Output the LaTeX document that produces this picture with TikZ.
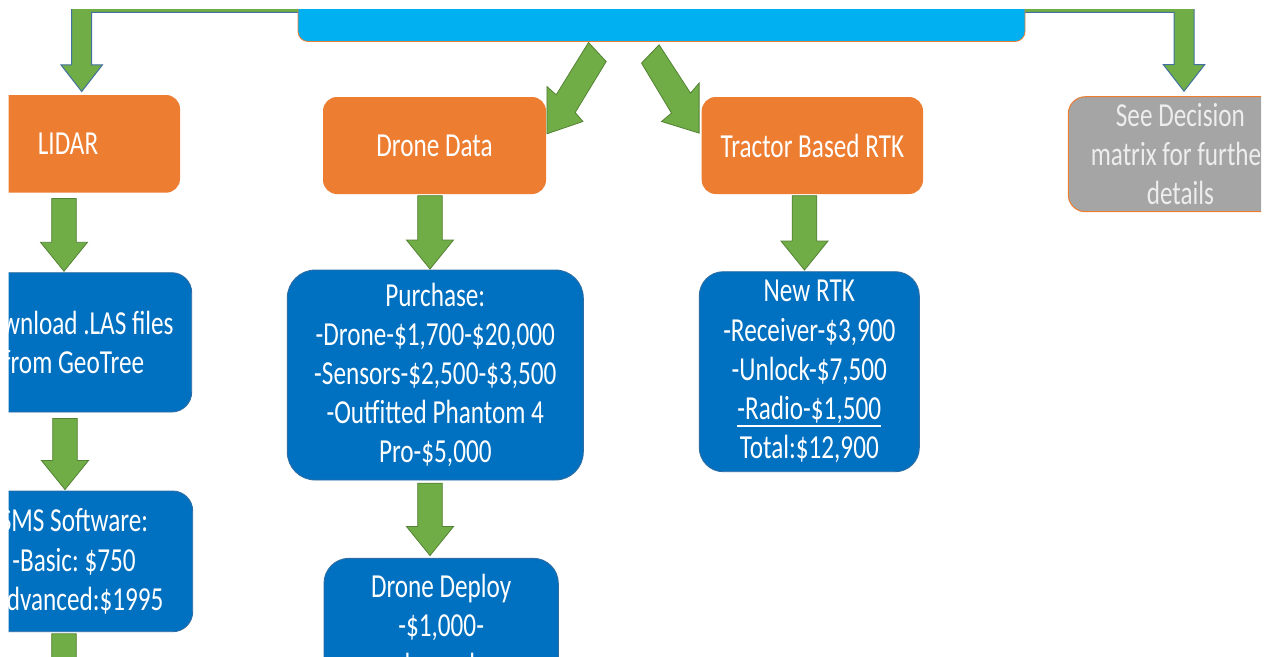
\documentclass[tikz,border=0pt]{standalone}
\usepackage{fontspec}
\setmainfont{Carlito}[FakeStretch=0.75]
\usetikzlibrary{calc}
\definecolor{gfill}{HTML}{70AD47}
\definecolor{gline}{HTML}{548235}
\definecolor{eline}{HTML}{41719C}
\definecolor{bfill}{HTML}{0070C0}
\definecolor{bline}{HTML}{2E6DA4}
\definecolor{ofill}{HTML}{ED7D31}
\definecolor{grfill}{HTML}{A5A5A5}
\definecolor{tfill}{HTML}{00B0F0}
\newcommand\myul[1]{\vtop{\hbox{#1}\kern1.2pt\hrule height 1.6pt}}
\newcommand\blockdown[2]{\draw[garrow] let \p1=#1, \p2=#2 in
  (\x2-12.3,\y1) -- (\x2+12.3,\y1) -- (\x2+12.3,\y2+29) -- (\x2+23.5,\y2+29)
  -- (\x2,\y2) -- (\x2-23.5,\y2+29) -- (\x2-12.3,\y2+29) -- cycle;}
\begin{document}
\frenchspacing
\begin{tikzpicture}[x=1pt,y=-1pt,
  box/.style={rounded corners=#1pt, text=white, align=center, inner sep=0pt,
    font=\fontsize{33.6}{39.2}\selectfont\frenchspacing},
  orangebox/.style={box=14, fill=ofill},
  bluebox/.style={box=#1, fill=bfill, draw=bline, line width=0.9pt},
  graybox/.style={box=17, fill=grfill, draw=ofill, line width=1pt, text=white!93!black},
  topbar/.style={fill=tfill, draw=ofill, line width=0.8pt, rounded corners=10pt},
  garrow/.style={fill=gfill, draw=gline, line width=0.8pt},
  earrow/.style={fill=gfill, draw=eline, line width=1pt}]
\useasboundingbox (0,0) rectangle (1273,656);
\clip (8.5,9.5) rectangle (1261,656);
% boxes
\node[orangebox, minimum width=224pt, minimum height=97.7pt] (lidar) at (68,143.85) {LIDAR};
\node[orangebox, minimum width=223pt, minimum height=97pt] (dd) at (434.5,145.5) {Drone Data};
\node[orangebox, minimum width=221.3pt, minimum height=97pt] (tractor) at (812.35,145.5) {Tractor Based RTK};
\node[graybox, minimum width=224.2pt, minimum height=115pt] (gray) at (1180.4,154.2) {See Decision\\matrix for further\\details};
\node[bluebox=20, minimum width=236.4pt, minimum height=139.3pt] (download) at (73.5,342.35) {Download .LAS files\\from GeoTree};
\node[bluebox=20, minimum width=237.4pt, minimum height=140.7pt] (sms) at (74,561.35) {SMS Software:\\-Basic: \$750\\-Advanced:\$1995};
\node[bluebox=28, minimum width=296pt, minimum height=210pt] (purchase) at (435.3,375) {Purchase:\\-Drone-\$1,700-\$20,000\\-Sensors-\$2,500-\$3,500\\-Outfitted Phantom 4\\Pro-\$5,000};
\node[bluebox=25, minimum width=234.3pt, minimum height=139.4pt] (deploy) at (441.15,628) {Drone Deploy\\-\$1,000-\\depends};
\node[bluebox=24, minimum width=220pt, minimum height=200pt] (rtk) at (809.3,371.7) {New RTK\\-Receiver-\$3,900\\-Unlock-\$7,500\\\myul{-Radio-\$1,500}\\Total:\$12,900};
% elbow arrows from the top bar
\coordinate (lrun) at (330,2.3);
\coordinate (ltip) at ($(lidar.north)+(13.7,-3.3)$);
\coordinate (rrun) at (990,2.3);
\coordinate (rtip) at ($(gray.north)+(3.6,-5)$);
\draw[earrow] let \p1=(lrun), \p2=(ltip) in
  (\x1,\y1+10) -- (\x2-10,\y1+10) -- (\x2-10,\y2+26.7) -- (\x2-20.8,\y2+26.7) -- (\x2,\y2)
  -- (\x2+20.8,\y2+26.7) -- (\x2+10,\y2+26.7) -- (\x2+10,\y1-10) -- (\x1,\y1-10) -- cycle;
\draw[earrow] let \p1=(rrun), \p2=(rtip) in
  (\x1,\y1+10) -- (\x2+10,\y1+10) -- (\x2+10,\y2+26.7) -- (\x2+20.8,\y2+26.7) -- (\x2,\y2)
  -- (\x2-20.8,\y2+26.7) -- (\x2-10,\y2+26.7) -- (\x2-10,\y1-10) -- (\x1,\y1-10) -- cycle;
% top bar
\node[topbar, minimum width=727pt, minimum height=61.5pt] (top) at (661.5,10.75) {};
% diagonal arrows
\coordinate (dtip) at ($(dd.north east)+(0.7,37)$);
\draw[garrow, shift={(dtip)}] (41.6,-91.3) -- (59.3,-72.3) -- (28.3,-21.3) -- (36,-12.3)
  -- (0,0) -- (0,-47.3) -- (9.3,-39) -- cycle;
\coordinate (ttip) at ($(tractor.north west)+(-2.4,36.3)$);
\draw[garrow, shift={(ttip)}] (-57.6,-70) -- (-40,-88.3) -- (-8.6,-40) -- (0,-50)
  -- (0,0) -- (-37.6,-11.6) -- (-27.6,-20) -- cycle;
% vertical arrows
\blockdown{($(lidar.south)+(0,5.6)$)}{($(download.north)+(-9.5,-1)$)}
\blockdown{($(download.south)+(0,6)$)}{($(sms.north)+(-9,-1)$)}
\coordinate (smsnext) at ($(sms.south)+(-10,90)$);
\blockdown{($(sms.south)+(0,1.6)$)}{(smsnext)}
\blockdown{($(dd.south)+(0,1.5)$)}{($(purchase.north)+(-5.3,-0.5)$)}
\blockdown{($(purchase.south)+(0,2.7)$)}{($(deploy.north)+(-11.15,-2.3)$)}
\blockdown{($(tractor.south)+(0,1.5)$)}{($(rtk.north)+(-4.8,-1.2)$)}
\end{tikzpicture}
\end{document}
